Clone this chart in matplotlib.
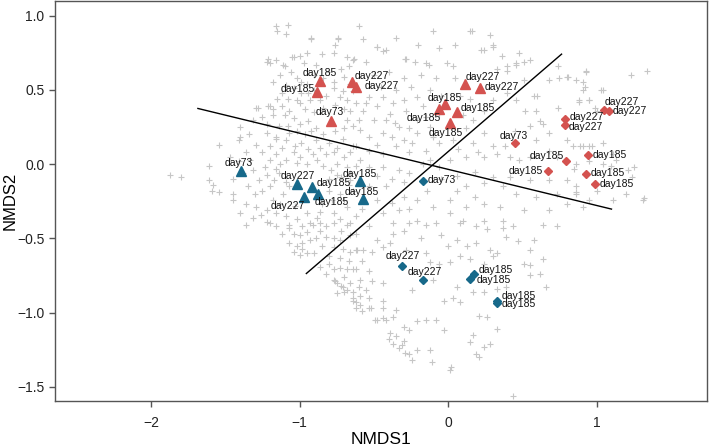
import matplotlib
matplotlib.use("Agg")
import matplotlib.pyplot as plt

plt.rcParams['font.family'] = ['Liberation Sans', 'DejaVu Sans']

# species scores (grey crosses)
species_xy = [
    (-1.16, 0.93), (-1.15, 0.90), (-1.08, 0.94), (-1.09, 0.88), (-0.92, 0.84), (-0.74, 0.84), (-0.76, 0.80),
    (-1.04, 0.72), (-1.00, 0.73), (-0.95, 0.75), (-0.85, 0.74), (-0.77, 0.75), (-0.68, 0.72), (-0.64, 0.70),
    (-1.22, 0.69), (-1.16, 0.70), (-1.10, 0.66), (-0.97, 0.68), (-0.89, 0.67), (-0.67, 0.66),
    (-1.02, 0.58), (-0.99, 0.55), (-0.95, 0.54), (-0.77, 0.55), (-0.70, 0.59), (-0.66, 0.54),
    (-1.09, 0.53), (-1.04, 0.51), (-0.99, 0.48), (-0.94, 0.48), (-0.77, 0.51), (-0.71, 0.49), (-0.64, 0.49),
    (-1.28, 0.38), (-1.20, 0.39), (-1.12, 0.39), (-1.07, 0.36), (-1.02, 0.43), (-1.00, 0.41), (-0.93, 0.43),
    (-0.86, 0.43), (-0.73, 0.45), (-0.68, 0.43), (-0.62, 0.41), (-0.66, 0.36),
    (-1.40, 0.25), (-1.31, 0.30), (-1.25, 0.32), (-1.18, 0.33), (-1.10, 0.33), (-1.04, 0.31), (-1.00, 0.27),
    (-0.94, 0.29), (-0.89, 0.24), (-0.68, 0.30), (-0.64, 0.26),
    (-1.40, 0.18), (-1.22, 0.21), (-1.16, 0.18), (-1.07, 0.21), (-1.02, 0.22),
    (-1.54, 0.13), (-1.41, 0.16), (-1.29, 0.13), (-1.16, 0.17), (-1.09, 0.16), (-0.99, 0.14), (-0.89, 0.16),
    (-0.80, 0.14), (-0.71, 0.17), (-0.64, 0.12),
    (-1.47, 0.05), (-1.36, 0.08), (-1.25, 0.08), (-1.16, 0.07), (-1.04, 0.08), (-1.00, 0.05), (-0.91, 0.07),
    (-0.82, 0.07), (-0.75, 0.11), (-0.66, 0.08),
    (-1.61, -0.01), (-1.87, -0.07), (-1.80, -0.09), (-1.61, -0.11), (-1.31, -0.04), (-1.23, -0.02),
    (-1.16, -0.03), (-1.09, 0.03), (-0.95, 0.00), (-0.84, -0.01), (-0.75, 0.00), (-0.68, -0.02), (-0.62, -0.01),
    (-1.27, -0.11), (-1.17, -0.11), (-1.09, -0.12), (-0.80, -0.10), (-0.75, -0.07), (-0.66, -0.06),
    (-1.58, -0.14), (-1.59, -0.18), (-1.54, -0.19), (-1.45, -0.20), (-1.35, -0.15), (-1.25, -0.18),
    (-1.20, -0.15), (-1.11, -0.20), (-1.07, -0.15), (-0.80, -0.18), (-0.73, -0.20), (-0.64, -0.18),
    (-0.78, -0.24), (-1.45, -0.24), (-1.36, -0.27), (-1.29, -0.29), (-1.22, -0.31), (-1.16, -0.33),
    (-1.09, -0.35), (-0.95, -0.33), (-0.86, -0.32), (-0.77, -0.33), (-0.68, -0.29), (-0.62, -0.35),
    (-1.36, -0.41), (-1.22, -0.39), (-1.16, -0.42), (-1.07, -0.41), (-0.93, -0.40), (-0.82, -0.42),
    (-0.66, -0.40),
    (-1.20, -0.40), (-1.07, -0.43), (-1.04, -0.47), (-1.00, -0.48), (-0.98, -0.42), (-0.91, -0.41),
    (-0.86, -0.40), (-0.77, -0.40), (-0.68, -0.41), (-1.07, -0.53), (-1.02, -0.55), (-0.98, -0.53),
    (-0.93, -0.51), (-0.89, -0.50), (-0.82, -0.49), (-0.77, -0.50), (-0.73, -0.51), (-0.66, -0.48),
    (-1.04, -0.59), (-1.00, -0.61), (-0.95, -0.60), (-0.90, -0.60), (-0.77, -0.56), (-0.71, -0.57),
    (-0.66, -0.59), (-0.61, -0.58), (-0.86, -0.69), (-0.80, -0.67), (-0.77, -0.71), (-0.73, -0.70),
    (-0.68, -0.71), (-0.64, -0.71), (-0.77, -0.78), (-0.75, -0.80), (-0.71, -0.83), (-0.68, -0.85),
    (-0.64, -0.90), (-0.62, -0.93),
    (-0.57, 0.84), (-0.48, 0.79), (-0.44, 0.76), (-0.29, 0.71), (-0.22, 0.69), (-0.13, 0.67), (-0.06, 0.78),
    (-0.01, 0.68), (0.03, 0.66), (0.15, 0.90), (0.28, 0.87), (0.30, 0.80), (0.22, 0.77), (0.36, 0.73),
    (0.48, 0.75), (0.51, 0.69), (0.55, 0.70), (0.46, 0.68), (0.40, 0.66), (0.33, 0.64),
    (0.68, 0.57), (0.75, 0.58), (0.81, 0.59), (0.86, 0.57), (0.91, 0.50), (0.93, 0.62), (1.03, 0.50),
    (1.23, 0.60), (1.34, 0.63), (0.58, 0.46), (0.88, 0.43), (0.95, 0.43), (1.00, 0.36),
    (-0.53, 0.45), (-0.55, 0.41), (-0.44, 0.45), (-0.37, 0.41), (-0.30, 0.43), (-0.21, 0.45),
    (-0.57, 0.36), (-0.48, 0.39), (-0.39, 0.34), (-0.28, 0.36), (-0.17, 0.39), (-0.42, 0.30),
    (-0.33, 0.25), (-0.21, 0.30), (-0.12, 0.25), (-0.59, 0.23), (-0.53, 0.18), (-0.44, 0.21),
    (-0.30, 0.16), (-0.21, 0.21), (-0.10, 0.18), (-0.62, 0.12), (-0.53, 0.09), (-0.44, 0.07),
    (-0.35, 0.12), (-0.24, 0.14), (-0.15, 0.09), (-0.06, 0.14), (0.03, 0.16), (0.17, 0.14),
    (0.24, 0.21), (0.30, 0.12), (0.17, 0.30), (0.24, 0.36), (0.30, 0.43), (0.40, 0.48), (0.46, 0.43),
    (0.51, 0.57), (0.59, 0.36), (0.64, 0.27), (0.68, 0.21), (0.59, 0.16), (0.80, 0.16), (0.89, 0.12),
    (0.95, 0.12), (1.04, 0.14), (1.11, 0.07), (1.04, 0.00), (1.13, 0.03), (1.25, -0.02),
    (-0.59, 0.03), (-0.53, -0.02), (-0.44, -0.02), (-0.33, -0.04), (-0.26, -0.06), (-0.17, 0.00),
    (-0.06, -0.02), (0.01, 0.03), (0.12, 0.05), (0.24, 0.05), (0.33, 0.07), (0.42, 0.05), (0.48, 0.03),
    (0.55, 0.05), (0.68, 0.09), (0.73, 0.05), (0.86, 0.00), (0.30, -0.09), (0.42, -0.09), (0.55, -0.11),
    (0.68, -0.11), (0.80, -0.11), (0.86, -0.15), (1.00, -0.18), (1.31, -0.24),
    (-0.66, -0.11), (-0.53, -0.15), (-0.42, -0.15), (-0.30, -0.22), (-0.21, -0.24), (-0.10, -0.29),
    (0.01, -0.24), (0.12, -0.15), (0.24, -0.13), (0.37, -0.15), (0.46, -0.20), (0.59, -0.22),
    (0.73, -0.20), (0.86, -0.20), (0.95, -0.24), (1.11, -0.24), (1.20, -0.20),
    (-0.44, -0.33), (-0.33, -0.31), (-0.21, -0.38), (0.01, -0.33), (0.12, -0.29), (0.24, -0.27),
    (0.35, -0.29), (0.51, -0.31), (0.68, -0.31), (0.80, -0.27), (0.91, -0.29),
    (-0.53, -0.42), (-0.37, -0.40), (-0.08, -0.40), (0.10, -0.38), (0.24, -0.38), (0.37, -0.38),
    (-0.62, -0.58), (-0.57, -0.58), (-0.51, -0.59), (-0.44, -0.56), (-0.39, -0.53), (-0.37, -0.47),
    (-0.48, -0.51), (-0.26, -0.40), (-0.15, -0.41), (0.08, -0.40), (0.19, -0.42), (0.26, -0.44),
    (0.37, -0.43), (0.44, -0.42), (0.64, -0.41), (0.73, -0.42), (0.06, -0.51), (0.13, -0.55),
    (0.19, -0.53), (0.28, -0.58), (0.33, -0.60), (0.39, -0.49), (0.47, -0.52), (0.55, -0.58),
    (0.58, -0.51), (-0.12, -0.66), (-0.06, -0.67), (0.01, -0.66), (0.08, -0.62), (0.15, -0.64),
    (0.24, -0.67), (0.30, -0.62), (0.51, -0.67), (0.55, -0.68), (0.64, -0.64),
    (-0.62, -0.71), (-0.53, -0.72), (-0.59, -0.78), (-0.51, -0.79), (-0.44, -0.80), (-0.24, -0.85),
    (-0.10, -0.78), (0.06, -0.83), (0.24, -0.86), (0.33, -0.84), (0.39, -0.83), (0.55, -0.75),
    (0.62, -0.74), (0.66, -0.83), (-0.64, -0.86), (-0.59, -0.89), (-0.53, -0.90), (-0.44, -0.92),
    (-0.62, -0.97), (-0.53, -0.97), (-0.44, -0.97), (-0.35, -0.98), (-0.03, -0.92), (0.03, -0.90),
    (0.08, -0.93), (0.17, -0.86), (-0.48, -1.05), (-0.42, -1.05), (-0.37, -1.03), (-0.30, -1.10),
    (-0.21, -1.06), (-0.15, -1.05), (-0.08, -1.05), (-0.03, -1.12), (-0.39, -1.14), (-0.35, -1.16),
    (-0.30, -1.19), (-0.26, -1.12), (0.17, -1.15), (0.15, -1.20), (0.21, -1.02), (0.26, -1.03),
    (0.33, -1.11), (0.24, -1.23), (0.28, -1.21), (0.19, -1.28), (0.21, -1.30), (-0.21, -1.25),
    (-0.26, -1.28), (-0.24, -1.32), (-0.12, -1.25), (-0.11, -1.33), (0.01, -1.39), (0.02, -1.37),
    (0.44, -1.56), (-0.40, -1.18), (-0.37, -1.21), (-0.33, -1.24), (-0.29, -1.27), (-0.31, -1.22),
    (-0.76, -0.79), (-0.72, -0.82), (-0.75, -0.87), (-0.70, -0.86), (-0.64, -0.92), (-0.59, -0.95),
    (-0.58, -0.99), (-0.52, -0.97), (-0.49, -1.05), (-0.44, -1.04),
    (-1.21, 0.71), (-1.20, 0.68), (-1.11, 0.67), (-1.05, 0.72), (-1.29, 0.38), (-1.21, 0.39), (-1.18, 0.37),
    (-0.92, 0.85), (-0.74, 0.85), (-0.48, 0.79), (-0.42, 0.77), (-0.63, 0.71), (-0.55, 0.69),
    (-0.28, 0.71), (-0.15, 0.68),
    (0.16, 0.90), (0.24, 0.77), (0.30, 0.79), (0.40, 0.63), (0.46, 0.67), (0.74, 0.66), (0.80, 0.59),
    (0.60, 0.46), (0.52, 0.36), (0.62, 0.29), (0.74, 0.38),
    (0.93, 0.63), (0.91, 0.55), (0.92, 0.52), (1.04, 0.50), (0.88, 0.42), (0.95, 0.43), (0.99, 0.38),
    (0.84, 0.12), (0.91, 0.12), (0.97, 0.12), (0.95, 0.02), (1.10, -0.01), (0.85, -0.03), (1.21, -0.04),
    (1.24, -0.09), (1.32, -0.23), (0.86, -0.19),
    # denser left body
    (-1.13, 0.60), (-1.06, 0.62), (-0.90, 0.60), (-0.84, 0.58), (-0.80, 0.62), (-0.72, 0.64), (-1.18, 0.55),
    (-1.12, 0.48), (-0.90, 0.50), (-0.82, 0.46), (-1.15, 0.44), (-1.08, 0.44), (-0.96, 0.37), (-0.90, 0.35),
    (-0.84, 0.38), (-0.76, 0.40), (-0.70, 0.37), (-1.22, 0.27), (-1.14, 0.26), (-1.08, 0.26), (-0.96, 0.20),
    (-0.92, 0.22), (-0.84, 0.20), (-0.76, 0.22), (-0.70, 0.24), (-0.60, 0.30), (-1.34, 0.20), (-1.20, 0.12),
    (-1.12, 0.11), (-1.03, 0.12), (-0.94, 0.10), (-0.86, 0.11), (-0.77, 0.08), (-0.70, 0.05), (-1.41, 0.02),
    (-1.33, 0.03), (-1.20, 0.03), (-1.13, 0.00), (-1.02, 0.01), (-0.88, 0.03), (-0.79, -0.04), (-0.72, -0.09),
    (-1.45, -0.10), (-1.38, -0.06), (-1.22, -0.07), (-1.14, -0.06), (-1.30, -0.20), (-1.18, -0.24),
    (-1.13, -0.27), (-1.03, -0.28), (-0.85, -0.27), (-0.70, -0.24), (-0.67, -0.14), (-1.40, -0.33),
    (-1.31, -0.36), (-1.26, -0.34), (-1.02, -0.37), (-0.88, -0.36), (-0.73, -0.37), (-0.58, -0.30),
    (-1.12, -0.47), (-0.95, -0.46), (-0.86, -0.45), (-0.72, -0.45), (-0.62, -0.47), (-0.98, -0.57),
    (-0.85, -0.55), (-0.80, -0.62), (-0.73, -0.63), (-0.67, -0.65), (-0.58, -0.65), (-0.82, -0.74),
    (-0.70, -0.76), (-0.66, -0.80), (-0.60, -0.83), (-0.55, -0.85),
    # denser centre
    (-0.50, 0.60), (-0.40, 0.62), (-0.30, 0.58), (-0.18, 0.60), (-0.08, 0.58), (0.05, 0.58), (-0.45, 0.52),
    (-0.35, 0.50), (-0.25, 0.52), (-0.12, 0.50), (-0.05, 0.46), (0.08, 0.46), (0.15, 0.44), (-0.50, 0.30),
    (-0.36, 0.28), (-0.26, 0.24), (-0.15, 0.32), (-0.06, 0.34), (0.10, 0.33), (0.12, 0.24), (-0.48, 0.13),
    (-0.38, 0.18), (-0.26, 0.08), (-0.12, 0.03), (0.07, 0.10), (0.20, 0.08), (0.38, 0.12), (0.45, 0.22),
    (0.55, 0.26), (-0.48, -0.08), (-0.38, -0.10), (-0.30, -0.12), (-0.05, -0.10), (0.06, -0.08),
    (0.18, -0.05), (-0.48, -0.24), (-0.38, -0.26), (-0.26, -0.30), (-0.14, -0.18), (0.06, -0.18),
    (0.18, -0.22), (-0.30, -0.45), (-0.18, -0.50), (-0.05, -0.48), (-0.28, -0.58), (-0.15, -0.60),
    (0.00, -0.55), (-0.60, 0.93), (-0.35, 0.85), (-0.20, 0.80), (0.05, 0.80), (-0.10, 0.90),
]

# site scores with labels
site_x = [-0.864, -0.879, -0.785, -0.646, -0.617, 0.112, 0.213, -0.018, -0.061, 0.059, 0.011,
          1.048, 1.084, 0.786, 0.786, 0.449, 0.793, 0.939, 0.671, 0.927, 0.990,
          -1.396, -1.014, -0.913, -0.970, -0.875, -0.595, -0.572,
          -0.168, -0.310, -0.170, 0.173, 0.146, 0.328, 0.328]
site_y = [0.559, 0.485, 0.292, 0.555, 0.517, 0.537, 0.514, 0.402, 0.369, 0.350, 0.278,
          0.364, 0.355, 0.303, 0.265, 0.139, 0.022, 0.059, -0.047, -0.067, -0.135,
          -0.045, -0.137, -0.153, -0.220, -0.202, -0.115, -0.234,
          -0.115, -0.685, -0.784, -0.743, -0.775, -0.921, -0.939]
site_day = ['day185', 'day185', 'day73', 'day227', 'day227', 'day227', 'day227',
            'day185', 'day185', 'day185', 'day185',
            'day227', 'day227', 'day227', 'day227', 'day73', 'day185', 'day185', 'day185', 'day185', 'day185',
            'day73', 'day227', 'day185', 'day227', 'day185', 'day185', 'day185',
            'day73', 'day227', 'day227', 'day185', 'day185', 'day185', 'day185']
site_group = ['red_tri'] * 11 + ['red_dia'] * 10 + ['teal_tri'] * 7 + ['teal_dia'] * 7

# label offsets in pixels (right, up)
label_off = [(0, 8), (-20, 3), (-2, 9), (20, 6), (25, 1), (18, 7), (22, 1), (-1, 6), (-15, -9), (21, 4), (-4, -10),
             (18, 8), (21, 0), (22, 2), (21, -2), (-1, 7), (-19, 5), (22, 0), (-22, 0), (22, 1), (22, 0),
             (-2, 8), (0, 8), (21, 4), (-16, -9), (14, -8), (0, 7), (-1, 7),
             (19, 1), (1, 10), (2, 8), (22, 4), (24, -1), (22, 5), (22, -1)]

# fitted vectors
vec_x = [(-1.684, 1.100), (-0.954, 0.764)]
vec_y = [(0.375, -0.303), (-0.737, 0.741)]

styles = {
    'red_tri': dict(marker='^', color='#d4524f', ms=7.5),
    'red_dia': dict(marker='D', color='#d4524f', ms=4),
    'teal_tri': dict(marker='^', color='#17698a', ms=7.5),
    'teal_dia': dict(marker='D', color='#17698a', ms=4),
}

fig = plt.figure(figsize=(7.09, 4.46), dpi=100)
ax = fig.add_axes([55 / 709, 45 / 446, 652 / 709, 400 / 446])

sx = [p[0] for p in species_xy]
sy = [p[1] for p in species_xy]
ax.plot(sx, sy, '+', color='#c6c6c6', ms=5, mew=0.8, zorder=1)

for vx, vy in zip(vec_x, vec_y):
    ax.plot(vx, vy, color='black', lw=1.0, zorder=2)

for g, st in styles.items():
    xs = [x for x, gg in zip(site_x, site_group) if gg == g]
    ys = [y for y, gg in zip(site_y, site_group) if gg == g]
    ax.plot(xs, ys, linestyle='none', marker=st['marker'], color=st['color'],
            ms=st['ms'], mec=st['color'], zorder=3)

for x, y, lab, off in zip(site_x, site_y, site_day, label_off):
    ax.annotate(lab, (x, y), xytext=off, textcoords='offset pixels',
                ha='center', va='center', fontsize=7.5, color='#111111', zorder=4)

ax.set_xlim(-2.646, 1.743)
ax.set_ylim(-1.596, 1.099)
ax.set_xticks([-2, -1, 0, 1])
ax.set_yticks([-1.5, -1.0, -0.5, 0.0, 0.5, 1.0])
ax.set_yticklabels(['\u22121.5', '\u22121.0', '\u22120.5', '0.0', '0.5', '1.0'])
ax.set_xticklabels(['\u22122', '\u22121', '0', '1'])

for sp in ax.spines.values():
    sp.set_color('#555555')
    sp.set_linewidth(1.0)
ax.tick_params(direction='out', length=4.5, width=1.0, color='#555555', labelsize=10, labelcolor='#222222')
ax.tick_params(axis='x', pad=6)
ax.tick_params(axis='y', pad=3)

ax.set_xlabel('NMDS1', fontsize=12.5, labelpad=2)
ax.set_ylabel('NMDS2', fontsize=12, labelpad=0)

fig.savefig('out.png', dpi=100)
